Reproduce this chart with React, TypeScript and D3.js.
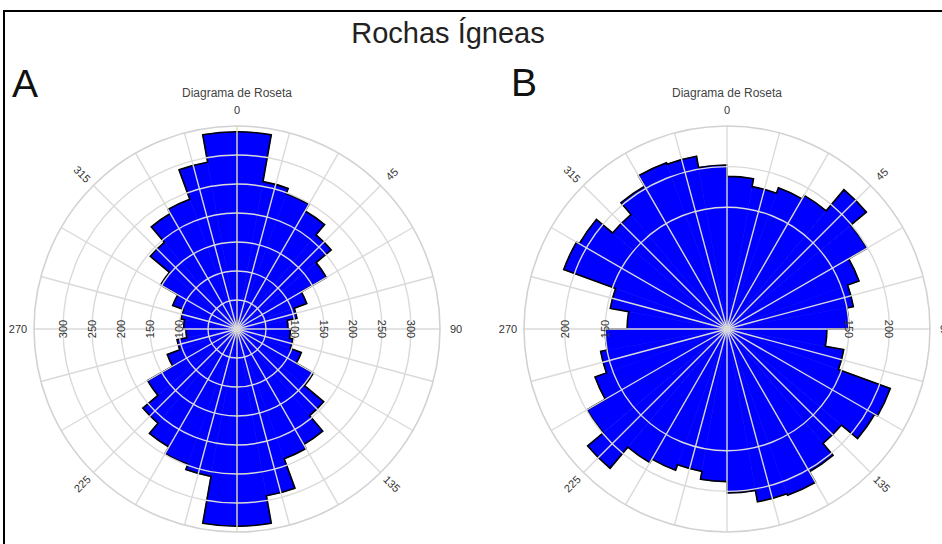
import React from 'react';
import * as d3 from 'd3';

// rose diagrams, 10 degree bins, mirrored every 180 degrees (strike data)
const binDeg = 10;
const halfA = [340, 258, 248, 235, 212, 178, 128, 105, 88, 92, 98, 118, 152, 195, 230, 238, 292, 340];
const halfB = [188, 178, 185, 190, 224, 199, 173, 158, 150, 123, 146, 214, 210, 184, 203, 218, 216, 202];
const ringsA = [50, 100, 150, 200, 250, 300];
const ringLabelsA = [100, 150, 200, 250, 300];
const ringsB = [150, 200];
const ringLabelsB = [150, 200];
const maxA = 350;
const maxB = 250;
const angleLabels = [0, 45, 90, 135, 180, 225, 270, 315];
const spokeStep = 15;

const font = 'Liberation Sans, Arial, sans-serif';
const gridColor = '#dadada';

interface RoseProps {
    cx: number,
    cy: number,
    half: number[],
    max: number,
    rings: number[],
    ringLabels: number[],
    yellowAxis: boolean
}

const Rose = (props: RoseProps) => {
    const outer = 203;
    const r = d3.scaleLinear().domain([0, props.max]).range([0, outer]);
    const values = props.half.concat(props.half);
    const rad = Math.PI / 180;

    const arc = d3.arc<number>()
        .innerRadius(0)
        .outerRadius(d => r(d))
        .startAngle((d, i) => i * binDeg * rad)
        .endAngle((d, i) => (i + 1) * binDeg * rad);

    // black outline round the whole rose, no edges between neighbouring bars
    const outline = d3.path();
    values.forEach((v, i) => {
        let a0 = (i * binDeg - 90) * rad;
        let a1 = ((i + 1) * binDeg - 90) * rad;
        if (i == 0) outline.moveTo(r(v) * Math.cos(a0), r(v) * Math.sin(a0));
        outline.arc(0, 0, r(v), a0, a1);
    });
    outline.closePath();

    const spokes = d3.range(0, 360, spokeStep);
    const labelR = 219;

    return (
        <g transform={`translate(${props.cx},${props.cy})`}>
            <circle r={outer} fill="white" />
            {values.map((v, i) => (
                <path key={i} d={arc(v, i) as string} fill="#0000ff" stroke="#0000ff" strokeWidth={0.6} />
            ))}
            <path d={outline.toString()} fill="none" stroke="#000" strokeWidth={1.6} />
            {props.rings.map(v => (
                <circle key={v} r={r(v)} fill="none" stroke={gridColor} strokeWidth={1.4} />
            ))}
            {spokes.map(a => (
                <line key={a} x1={0} y1={0} x2={outer * Math.sin(a * rad)} y2={-outer * Math.cos(a * rad)}
                    stroke={props.yellowAxis && a % 180 == 0 ? '#e8e1a2' : gridColor} strokeWidth={1.4} />
            ))}
            <circle r={outer} fill="none" stroke="#d2d2d2" strokeWidth={1.6} />

            {angleLabels.map(a => {
                let x = labelR * Math.sin(a * rad);
                let y = -labelR * Math.cos(a * rad);
                let rot = a % 90 == 0 ? 0 : (a == 45 || a == 225 ? -45 : 45);
                return (
                    <text key={a} x={x} y={y} transform={`rotate(${rot},${x},${y})`} textAnchor="middle"
                        dominantBaseline="central" fontFamily={font} fontSize={11} fill="#333">{a}</text>
                );
            })}

            {props.ringLabels.map(v => (
                <g key={v}>
                    <text x={r(v)} y={0} transform={`rotate(90,${r(v)},0)`} textAnchor="middle" dominantBaseline="central"
                        fontFamily={font} fontSize={11} fill="#333">{v}</text>
                    <text x={-r(v)} y={0} transform={`rotate(-90,${-r(v)},0)`} textAnchor="middle" dominantBaseline="central"
                        fontFamily={font} fontSize={11} fill="#333">{v}</text>
                </g>
            ))}

            <text x={0} y={-232} textAnchor="middle" fontFamily={font} fontSize={12} fill="#444">Diagrama de Roseta</text>
        </g>
    );
}

const App = () => {
    return (
        <svg width={942} height={544} style={{ position: 'absolute', left: 0, top: 0, background: 'white' }}>
            <rect x={4} y={11} width={1000} height={600} fill="none" stroke="#000" strokeWidth={2} />
            <text x={448} y={43} textAnchor="middle" fontFamily={font} fontSize={29} fill="#222">Rochas Ígneas</text>
            <text x={12} y={97} fontFamily={font} fontSize={39} fill="#111">A</text>
            <text x={511} y={96} fontFamily={font} fontSize={39} fill="#111">B</text>
            <Rose cx={237} cy={329} half={halfA} max={maxA} rings={ringsA} ringLabels={ringLabelsA} yellowAxis={true} />
            <Rose cx={727} cy={329} half={halfB} max={maxB} rings={ringsB} ringLabels={ringLabelsB} yellowAxis={false} />
        </svg>
    );
}

export default App;
